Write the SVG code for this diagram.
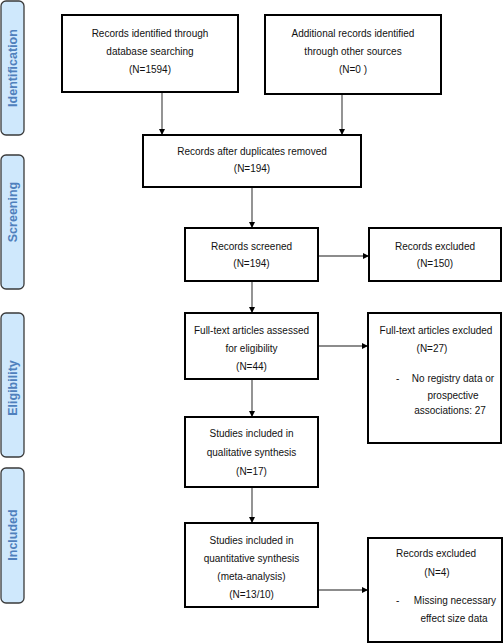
<svg xmlns="http://www.w3.org/2000/svg" width="504" height="644" viewBox="0 0 504 644">
<defs>
<marker id="ah" markerUnits="userSpaceOnUse" markerWidth="6" markerHeight="6" viewBox="0 0 6 6" refX="6" refY="3" orient="auto">
<path d="M0,0 L6,3 L0,6 Z" fill="#000"/>
</marker>
<style>
.bar{fill:#cfe8fc;stroke:#3a3a3a;stroke-width:1.3}
.bl{font-family:"Liberation Sans",Arial,sans-serif;font-size:12.5px;font-weight:bold;fill:#4f80bd;text-anchor:middle}
.box{fill:#fff;stroke:#000;stroke-width:2}
.t{font-family:"Liberation Sans",Arial,sans-serif;font-size:10px;fill:#111;text-anchor:middle}
.tl{font-family:"Liberation Sans",Arial,sans-serif;font-size:10px;fill:#111}
.c{stroke:#666;stroke-width:1.4;fill:none;marker-end:url(#ah)}
</style>
</defs>
<rect width="504" height="644" fill="#fff"/>
<g id="bar-identification"><rect class="bar" x="1" y="1" width="23" height="134" rx="5"/><text class="bl" transform="translate(17,68) rotate(-90)">Identification</text></g>
<g id="bar-screening"><rect class="bar" x="1" y="155" width="23" height="134" rx="5"/><text class="bl" transform="translate(17,212) rotate(-90)">Screening</text></g>
<g id="bar-eligibility"><rect class="bar" x="1" y="313" width="23" height="144" rx="5"/><text class="bl" transform="translate(17,388) rotate(-90)">Eligibility</text></g>
<g id="bar-included"><rect class="bar" x="1" y="468" width="23" height="135" rx="5"/><text class="bl" transform="translate(17,535) rotate(-90)">Included</text></g>

<g id="connectors">
<line class="c" x1="162" y1="92" x2="162" y2="135"/>
<line class="c" x1="342" y1="94" x2="342" y2="135"/>
<line class="c" x1="252" y1="187" x2="252" y2="228"/>
<line class="c" x1="318" y1="256" x2="369" y2="256"/>
<line class="c" x1="252" y1="281" x2="252" y2="313"/>
<line class="c" x1="318" y1="346" x2="368" y2="346"/>
<line class="c" x1="252" y1="379" x2="252" y2="417"/>
<line class="c" x1="252" y1="487" x2="252" y2="523"/>
<line class="c" x1="318" y1="590" x2="368" y2="590"/>
</g>

<g id="n-database"><rect class="box" x="62" y="15" width="176" height="77"/>
<text class="t" x="150" y="37">Records identified through</text>
<text class="t" x="150" y="55">database searching</text>
<text class="t" x="150" y="73">(N=1594)</text></g>

<g id="n-other"><rect class="box" x="265" y="15" width="176" height="79"/>
<text class="t" x="353" y="37">Additional records identified</text>
<text class="t" x="353" y="55">through other sources</text>
<text class="t" x="353" y="73">(N=0 )</text></g>

<g id="n-duplicates"><rect class="box" x="143" y="135" width="218" height="52"/>
<text class="t" x="252" y="155">Records after duplicates removed</text>
<text class="t" x="252" y="172">(N=194)</text></g>

<g id="n-screened"><rect class="box" x="185" y="228" width="133" height="53"/>
<text class="t" x="251.5" y="250">Records screened</text>
<text class="t" x="251.5" y="267">(N=194)</text></g>

<g id="n-excluded1"><rect class="box" x="369" y="228" width="132" height="53"/>
<text class="t" x="435" y="250">Records excluded</text>
<text class="t" x="435" y="267">(N=150)</text></g>

<g id="n-fulltext"><rect class="box" x="185" y="313" width="133" height="66"/>
<text class="t" x="251.5" y="334">Full-text articles assessed</text>
<text class="t" x="251.5" y="352">for eligibility</text>
<text class="t" x="251.5" y="370">(N=44)</text></g>

<g id="n-fulltext-excluded"><rect class="box" x="368" y="313" width="133" height="130"/>
<text class="t" x="436" y="334">Full-text articles excluded</text>
<text class="t" x="432" y="352">(N=27)</text>
<text class="tl" x="396" y="382">-</text>
<text class="t" x="453" y="382">No registry data or</text>
<text class="t" x="453" y="399">prospective</text>
<text class="t" x="450" y="414">associations: 27</text></g>

<g id="n-qualitative"><rect class="box" x="185" y="417" width="133" height="70"/>
<text class="t" x="251.5" y="437">Studies included in</text>
<text class="t" x="251.5" y="456">qualitative synthesis</text>
<text class="t" x="251.5" y="475">(N=17)</text></g>

<g id="n-quantitative"><rect class="box" x="185" y="523" width="133" height="84"/>
<text class="t" x="251.5" y="544">Studies included in</text>
<text class="t" x="251.5" y="562">quantitative synthesis</text>
<text class="t" x="251.5" y="580">(meta-analysis)</text>
<text class="t" x="251.5" y="598">(N=13/10)</text></g>

<g id="n-excluded2"><rect class="box" x="368" y="538" width="134" height="104"/>
<text class="t" x="436" y="557">Records excluded</text>
<text class="t" x="437" y="576">(N=4)</text>
<text class="tl" x="396" y="604">-</text>
<text class="t" x="455" y="604">Missing necessary</text>
<text class="t" x="454" y="622">effect size data</text></g>
</svg>
